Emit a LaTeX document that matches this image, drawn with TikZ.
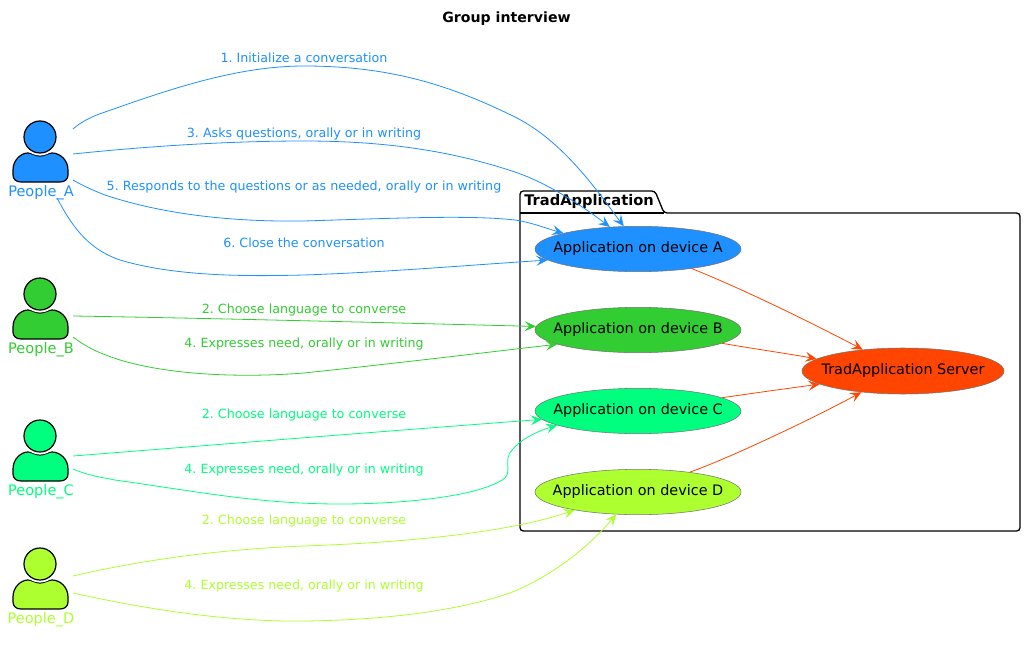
\documentclass[tikz,border=0pt]{standalone}
\usepackage{fontspec}
\setmainfont{DejaVu Sans}
\frenchspacing
\usetikzlibrary{arrows.meta,shapes.geometric}
\definecolor{peopleA}{HTML}{1E90FF}
\definecolor{peopleB}{HTML}{32CD32}
\definecolor{peopleC}{HTML}{00FF7F}
\definecolor{peopleD}{HTML}{ADFF2F}
\definecolor{server}{HTML}{FF4500}
\newcommand{\personbody}{(21,45) .. controls (16,45) and (13,42) .. (13,38) -- (13,33) .. controls (13,23) and (21,16) .. (28,16) .. controls (32,16) and (35,19) .. (40,19) .. controls (45,19) and (48,16) .. (52,16) .. controls (60,16) and (68,23) .. (68,33) -- (68,38) .. controls (68,42) and (65,45) .. (60,45) -- cycle}
\tikzset{
  flow/.style={line width=0.6pt,-{Stealth[length=8.5pt,width=7.5pt,inset=3.5pt]}},
  app/.style={ellipse,draw=black!55,line width=0.4pt,minimum width=154.5pt,minimum height=34pt,inner sep=0pt,inner xsep=-14pt,font=\fontsize{10.8pt}{12pt}\selectfont},
  lbl/.style={font=\fontsize{9.5pt}{11pt}\selectfont,text height=7pt,text depth=2pt,inner sep=0pt},
}
\begin{document}
\begin{tikzpicture}[x=0.75pt,y=-0.75pt]
  \useasboundingbox (0,0) rectangle (1026,650);
  \node[font=\fontsize{10.6pt}{12pt}\selectfont\bfseries] (title) at (506.5,19) {Group interview};
  % package
  \draw[line width=1pt,rounded corners=2.5pt] (520,213) -- (520,191) -- (655,191) -- (664,213) -- (1020,213) -- (1020,531) -- (520,531) -- cycle;
  \draw[line width=1pt] (520,213) -- (664,213);
  \node[font=\fontsize{11pt}{12pt}\selectfont\bfseries,anchor=west,inner sep=0pt] (package) at (524,201) {TradApplication};
  % people
  \foreach \who/\name/\y in {peopleA/People\_A/137,peopleB/People\_B/294,peopleC/People\_C/436,peopleD/People\_D/564} {
    \begin{scope}[yshift=-0.75*\y pt]
      \draw[fill=\who,line width=0.9pt] \personbody;
      \fill[white] (40,0) circle (18.5);
      \draw[fill=\who,line width=0.9pt] (40,0) circle (16);
      \node[lbl,text=\who,font=\fontsize{10.9pt}{12pt}\selectfont] (label\who) at (41,56) {\name};
    \end{scope}
  }
  % applications
  \node[app,fill=peopleA] (appA) at (638,249) {Application on device A};
  \node[app,fill=peopleB] (appB) at (638,330) {Application on device B};
  \node[app,fill=peopleC] (appC) at (638,411) {Application on device C};
  \node[app,fill=peopleD] (appD) at (638,492) {Application on device D};
  \node[app,fill=server,minimum width=151.5pt,minimum height=34.5pt] (srv) at (903,371) {TradApplication Server};
  % free ends
  \coordinate (a1) at (73,129);
  \coordinate (a3) at (73,154);
  \coordinate (a5) at (73,180);
  \coordinate (a6) at (57,198);
  \coordinate (b2) at (73,316);
  \coordinate (b4) at (73,337);
  \coordinate (c2) at (73,456);
  \coordinate (c4) at (73,469);
  \coordinate (d2) at (73,576);
  \coordinate (d4) at (73,593);
  % people A
  \draw[flow,peopleA] (a1) .. controls (82,121) and (93,116) .. (105,112) .. controls (165,91) and (235,66) .. (304,66) .. controls (390,66) and (450,85) .. (515,117) .. controls (565,142) and (600,195) .. (appA.122);
  \draw[flow,peopleA] (a3) .. controls (150,146) and (230,141) .. (304,141) .. controls (390,141) and (455,152) .. (515,172) .. controls (550,184) and (585,208) .. (appA.142);
  \draw[flow,peopleA] (a5) .. controls (85,187) and (95,191) .. (105,195) .. controls (165,215) and (235,222) .. (304,221) .. controls (400,218) and (470,215) .. (515,220) .. controls (530,222) and (545,228) .. (appA.168);
  \draw[flow,peopleA] (a6) .. controls (70,222) and (85,248) .. (120,260) .. controls (180,278) and (260,276) .. (304,275) .. controls (390,272) and (470,265) .. (appA.187);
  % people B
  \draw[flow,peopleB] (b2) .. controls (200,318) and (400,323) .. (appB.178);
  \draw[flow,peopleB] (b4) .. controls (90,350) and (105,355) .. (120,360) .. controls (170,375) and (240,378) .. (304,373) .. controls (390,364) and (490,352) .. (appB.190);
  % people C
  \draw[flow,peopleC] (c2) .. controls (200,446) and (400,430) .. (appC.185);
  \draw[flow,peopleC] (c4) .. controls (90,476) and (100,477) .. (115,480) .. controls (200,492) and (260,504) .. (340,504) .. controls (400,504) and (480,497) .. (505,478) .. controls (512,470) and (503,460) .. (512,450) .. controls (520,440) and (535,432) .. (appC.190);
  % people D
  \draw[flow,peopleD] (d2) .. controls (120,565) and (200,550) .. (304,546) .. controls (390,543) and (500,535) .. (appD.196);
  \draw[flow,peopleD] (d4) .. controls (150,610) and (230,622) .. (304,621) .. controls (390,620) and (460,610) .. (510,593) .. controls (555,575) and (590,545) .. (appD.226);
  % to the server
  \draw[flow,server] (appA.340) .. controls (745,290) and (810,322) .. (srv.152);
  \draw[flow,server] (appB.351) .. controls (755,349) and (790,354) .. (srv.172);
  \draw[flow,server] (appC.9) .. controls (755,393) and (790,388) .. (srv.189);
  \draw[flow,server] (appD.21) .. controls (725,460) and (810,420) .. (srv.207);
  % labels
  \node[lbl,text=peopleA] (l1) at (304,59) {1. Initialize a conversation};
  \node[lbl,text=peopleA] (l3) at (304,134) {3. Asks questions, orally or in writing};
  \node[lbl,text=peopleA] (l5) at (304,187) {5. Responds to the questions or as needed, orally or in writing};
  \node[lbl,text=peopleA] (l6) at (304,244) {6. Close the conversation};
  \node[lbl,text=peopleB] (l2b) at (304,310) {2. Choose language to converse};
  \node[lbl,text=peopleB] (l4b) at (304,344) {4. Expresses need, orally or in writing};
  \node[lbl,text=peopleC] (l2c) at (304,415) {2. Choose language to converse};
  \node[lbl,text=peopleC] (l4c) at (304,470) {4. Expresses need, orally or in writing};
  \node[lbl,text=peopleD] (l2d) at (304,521) {2. Choose language to converse};
  \node[lbl,text=peopleD] (l4d) at (304,586) {4. Expresses need, orally or in writing};
\end{tikzpicture}
\end{document}
